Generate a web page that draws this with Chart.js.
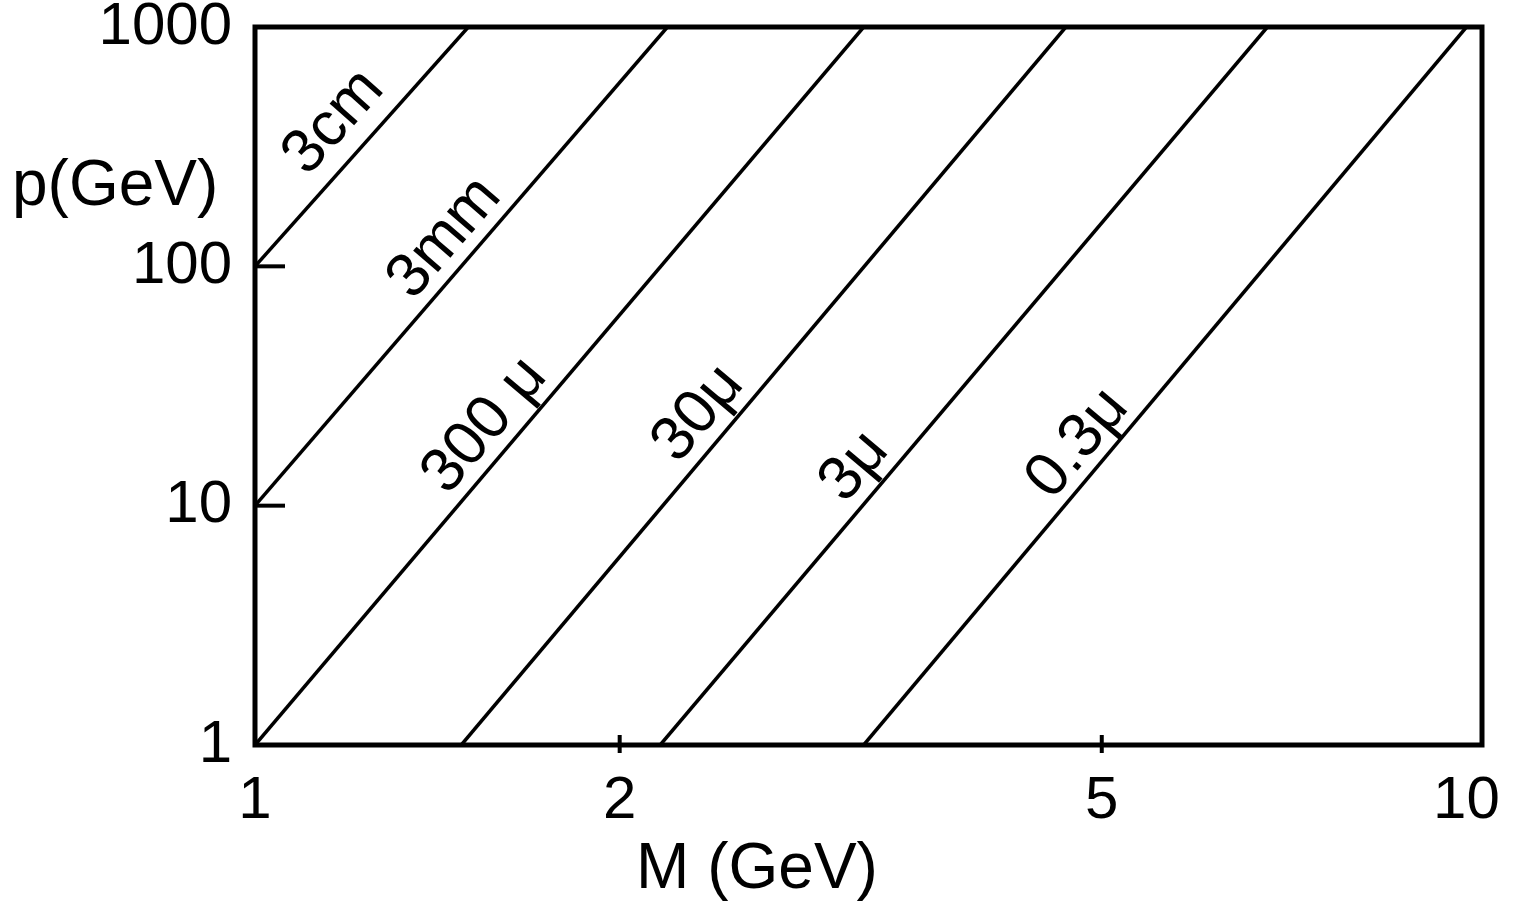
<!DOCTYPE html>
<html>
<head>
<meta charset="utf-8">
<script src="https://cdn.jsdelivr.net/npm/chart.js@4.4.1/dist/chart.umd.min.js"></script>
<style>
  html, body { margin: 0; padding: 0; background: #fff; }
  #wrap { width: 1514px; height: 906px; }
</style>
</head>
<body>
<div id="wrap"><canvas id="decayChart" width="1514" height="906"></canvas></div>
<script>
// tick marks on M (GeV) and p (GeV)
const xTicks = [1, 2, 5, 10];
const yTicks = [1, 10, 100, 1000];

// constant decay length lines, read at their two ends
const lineNames = ['3cm', '3mm', '300 μ', '30μ', '3μ', '0.3μ'];
const lineM = [[1, 1.50], [1, 2.19], [1, 3.18], [1.48, 4.67], [2.16, 6.85], [3.18, 10.0]];
const lineP = [[100, 1000], [10, 1000], [1, 1000], [1, 1000], [1, 1000], [1, 1000]];

// point on each line where its label sits
const labelM = [1.214, 1.50, 1.62, 2.43, 3.27, 5.0];
const labelP = [328, 108, 17.8, 20, 12, 15];

const FONT = "'Liberation Sans', Arial, sans-serif";

const extras = {
  id: 'extras',
  afterDatasetsDraw(chart) {
    const { ctx, chartArea: a, scales: { x, y } } = chart;
    ctx.save();
    ctx.strokeStyle = '#000';
    ctx.fillStyle = '#000';
    ctx.lineWidth = 5;
    ctx.strokeRect(a.left, a.top, a.right - a.left, a.bottom - a.top);

    // small ticks: inward on p axis, crossing on M axis
    ctx.lineWidth = 4;
    yTicks.slice(1, -1).forEach(v => {
      const py = y.getPixelForValue(v);
      ctx.beginPath();
      ctx.moveTo(a.left, py);
      ctx.lineTo(a.left + 30, py);
      ctx.stroke();
    });
    xTicks.slice(1, -1).forEach(v => {
      const px = x.getPixelForValue(v);
      ctx.beginPath();
      ctx.moveTo(px, a.bottom - 10);
      ctx.lineTo(px, a.bottom + 8);
      ctx.stroke();
    });

    // labels along the lines
    ctx.font = '62px ' + FONT;
    ctx.textAlign = 'center';
    ctx.textBaseline = 'alphabetic';
    lineNames.forEach((name, i) => {
      const x0 = x.getPixelForValue(lineM[i][0]), y0 = y.getPixelForValue(lineP[i][0]);
      const x1 = x.getPixelForValue(lineM[i][1]), y1 = y.getPixelForValue(lineP[i][1]);
      ctx.save();
      ctx.translate(x.getPixelForValue(labelM[i]), y.getPixelForValue(labelP[i]));
      ctx.rotate(Math.atan2(y1 - y0, x1 - x0));
      ctx.fillText(name, 0, -14);
      ctx.restore();
    });

    // axis titles
    ctx.font = '64px ' + FONT;
    ctx.textAlign = 'left';
    ctx.fillText('p(GeV)', 12, 205);
    ctx.textAlign = 'center';
    ctx.fillText('M (GeV)', 757, 888);
    ctx.restore();
  }
};

const tickFont = { family: FONT, size: 60 };

new Chart(document.getElementById('decayChart').getContext('2d'), {
  type: 'line',
  data: {
    datasets: lineNames.map((name, i) => ({
      label: name,
      data: lineM[i].map((m, j) => ({ x: m, y: lineP[i][j] })),
      borderColor: '#000',
      borderWidth: 3.5,
      pointRadius: 0,
      fill: false,
      tension: 0,
    })),
  },
  options: {
    responsive: false,
    animation: false,
    layout: { padding: { top: 27, right: 32, left: 0, bottom: 0 } },
    plugins: { legend: { display: false }, tooltip: { enabled: false } },
    scales: {
      x: {
        type: 'logarithmic', min: 1, max: 10.3,
        grid: { display: false }, border: { display: false },
        afterBuildTicks: s => { s.ticks = xTicks.map(v => ({ value: v })); },
        afterFit: s => { s.height = 161; s.paddingLeft = 0; s.paddingRight = 0; },
        ticks: { font: tickFont, color: '#000', padding: 12, maxRotation: 0, autoSkip: false, callback: v => String(v) },
      },
      y: {
        type: 'logarithmic', min: 1, max: 1000,
        grid: { display: false }, border: { display: false },
        afterBuildTicks: s => { s.ticks = yTicks.map(v => ({ value: v })); },
        afterFit: s => { s.width = 255; s.paddingTop = 0; s.paddingBottom = 0; },
        ticks: { font: tickFont, color: '#000', padding: 15, autoSkip: false, callback: v => String(v) },
      },
    },
  },
  plugins: [extras],
});
</script>
</body>
</html>
